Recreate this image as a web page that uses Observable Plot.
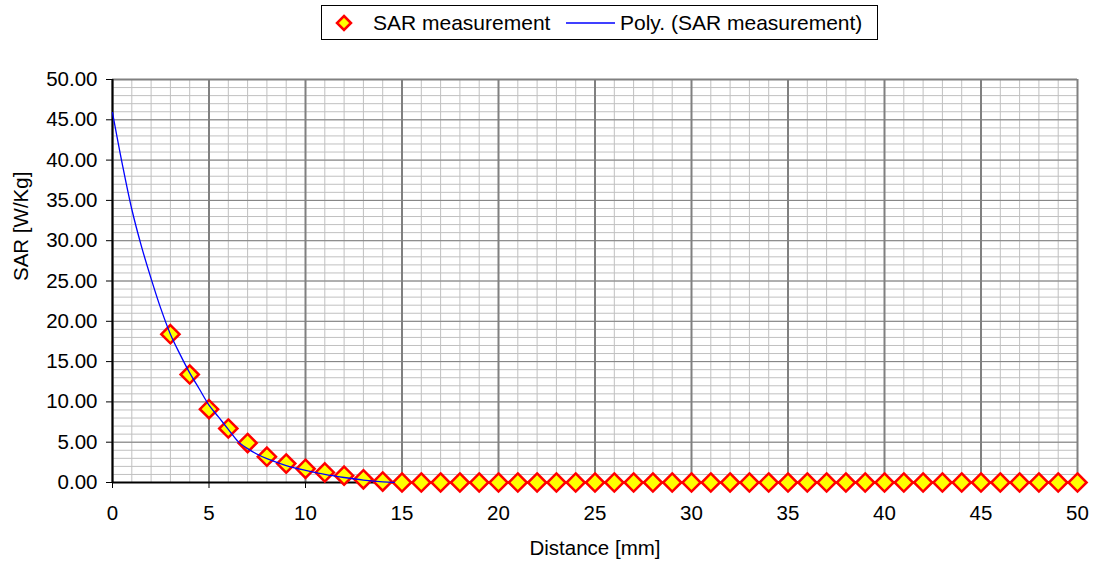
<!DOCTYPE html>
<html><head><meta charset="utf-8">
<script src="https://cdn.jsdelivr.net/npm/d3@7"></script>
<script src="https://cdn.jsdelivr.net/npm/@observablehq/plot@0.6"></script>
<style>
body{margin:0;background:#fff;font-family:"Liberation Sans",Arial,sans-serif;color:#000;}
#legend{position:relative;height:46px;width:1100px;}
#legend .box{position:absolute;left:321px;top:5px;width:557px;height:35px;border:1px solid #000;box-sizing:border-box;background:#fff;}
#legend .item{position:absolute;top:0;height:33px;line-height:33px;font-size:21px;white-space:nowrap;}
#legend svg{position:absolute;}
</style></head>
<body>
<div id="legend"><div class="box">
  <svg style="left:12px;top:7px" width="20" height="20"><path d="M10,3L17,10L10,17L3,10Z" fill="#ffff00" stroke="#ff0000" stroke-width="2.5"/></svg>
  <div class="item" id="lab1" style="left:51px"></div>
  <svg style="left:244px;top:16px" width="50" height="3"><line x1="0" y1="1" x2="49" y2="1" stroke="#0000ff" stroke-width="1.3"/></svg>
  <div class="item" id="lab2" style="left:298px"></div>
</div></div>
<div id="chart"></div>
<script>
// Series names
const seriesNames = ["SAR measurement", "Poly. (SAR measurement)"];
// Measured points
const distance = [3,4,5,6,7,8,9,10,11,12,13,14,15,16,17,18,19,20,21,22,23,24,25,26,27,28,29,30,31,32,33,34,35,36,37,38,39,40,41,42,43,44,45,46,47,48,49,50];
const sar = [18.4,13.4,9.1,6.7,4.9,3.2,2.35,1.7,1.25,0.85,0.4,0.12,0,0,0,0,0,0,0,0,0,0,0,0,0,0,0,0,0,0,0,0,0,0,0,0,0,0,0,0,0,0,0,0,0,0,0,0];
// Polynomial trendline
const trendX = [0,0.5,1,1.5,2,2.5,3,3.5,4,4.5,5,5.5,6,6.5,7,7.5,8,9,10,11,12,13,14,14.6];
const trendY = [45.9,39.6,33.9,29.3,25.3,21.6,18.4,15.9,13.6,11.6,9.6,8.1,6.6,5.1,4.2,3.5,2.95,2.1,1.5,1.0,0.62,0.3,0.08,0.02];
// Axis ticks
const xTicks = [0,5,10,15,20,25,30,35,40,45,50];
const yTicks = [0,5,10,15,20,25,30,35,40,45,50];
const xLabel = "Distance [mm]";
const yLabel = "SAR [W/Kg]";

document.getElementById("lab1").textContent = seriesNames[0];
document.getElementById("lab2").textContent = seriesNames[1];

const points = distance.map((d, i) => ({d, s: sar[i]}));
const trend = trendX.map((x, i) => ({x, y: trendY[i]}));
const minor = d3.range(0, 51, 1);

const chart = Plot.plot({
  width: 1100, height: 517,
  marginTop: 33, marginBottom: 81, marginLeft: 112, marginRight: 23,
  style: {fontFamily: "Liberation Sans, Arial, sans-serif", fontSize: "20.5px", color: "#000", background: "#fff", overflow: "visible"},
  x: {domain: [0, 50]},
  y: {domain: [0, 50]},
  marks: [
    Plot.ruleX(minor, {stroke: "#c0c0c0", strokeWidth: 1}),
    Plot.ruleY(minor, {stroke: "#c0c0c0", strokeWidth: 1}),
    Plot.ruleY(yTicks, {stroke: "#808080", strokeWidth: 1}),
    Plot.ruleX(xTicks, {stroke: "#808080", strokeWidth: 2}),
    Plot.ruleY([50], {stroke: "#808080", strokeWidth: 2}),
    Plot.axisX({ticks: xTicks, tickSize: 6, tickPadding: 17, tickFormat: d => String(d), label: null, stroke: "#000"}),
    Plot.axisY({ticks: yTicks, tickSize: 6, tickPadding: 9, tickFormat: d3.format(".2f"), label: null, stroke: "#000"}),
    Plot.ruleX([0], {stroke: "#000", strokeWidth: 2}),
    Plot.ruleY([0], {stroke: "#000", strokeWidth: 2}),
    Plot.dot(points, {x: "d", y: "s", symbol: "diamond2", r: 8.2, fill: "#ffff00", stroke: "#ff0000", strokeWidth: 2.5}),
    Plot.line(trend, {x: "x", y: "y", stroke: "#0000ff", strokeWidth: 1.3, curve: "catmull-rom"}),
    Plot.text([yLabel], {frameAnchor: "left", dx: -91, rotate: -90, fontSize: 20.5}),
    Plot.text([xLabel], {frameAnchor: "bottom", dy: 72, fontSize: 20.5})
  ]
});
document.getElementById("chart").appendChild(chart);
</script>
</body></html>
